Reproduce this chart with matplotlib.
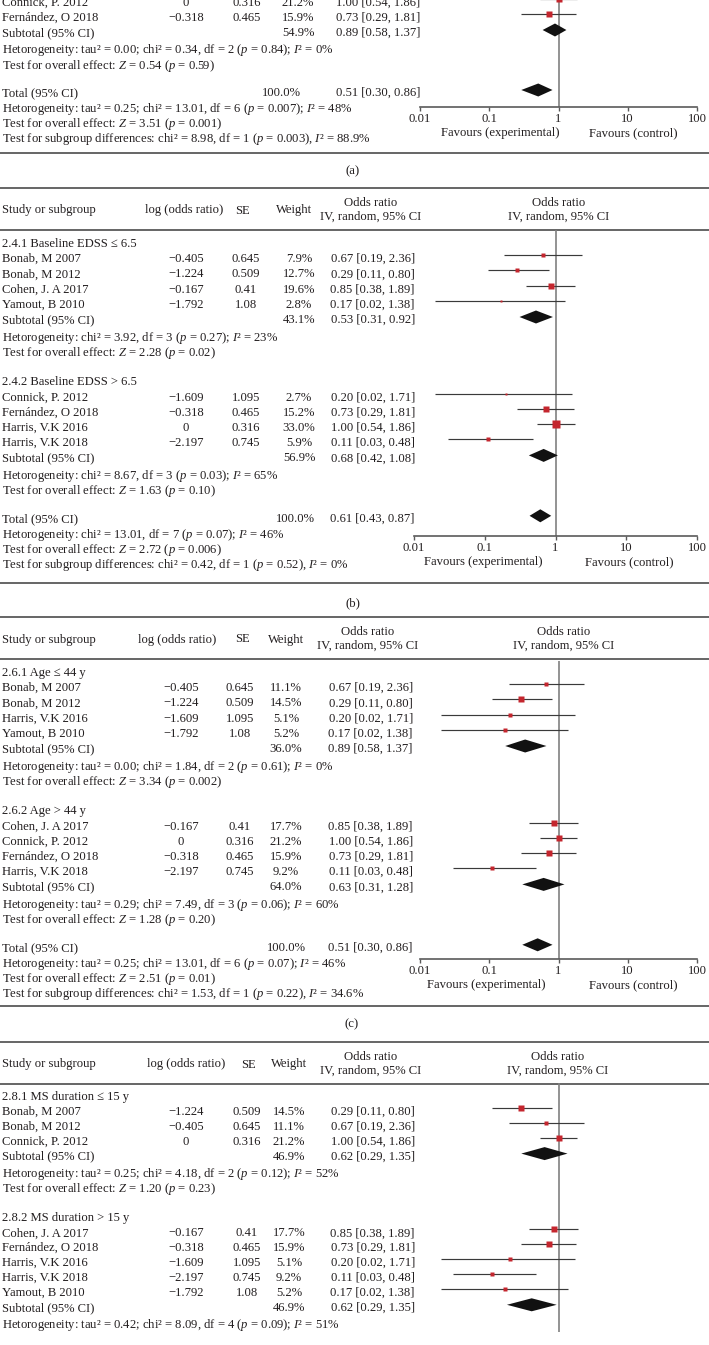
import matplotlib
matplotlib.use('Agg')
import matplotlib.pyplot as plt
from matplotlib.patches import Polygon
from matplotlib.ticker import NullLocator

FS = 9.1
plt.rcParams['font.family'] = ['Liberation Serif', 'DejaVu Serif']
plt.rcParams['mathtext.fontset'] = 'custom'
plt.rcParams['mathtext.rm'] = 'Liberation Serif'
plt.rcParams['mathtext.it'] = 'Liberation Serif:italic'
plt.rcParams['font.size'] = FS

# ---------------- data ----------------
# (a) only the bottom of the panel is visible
a2_names = ['Connick, P. 2012', 'Fernández, O 2018']
a2_log = [0, -0.318]
a2_se = [0.316, 0.465]
a2_w = [21.2, 15.9]
a2_or = [1.00, 0.73]
a2_lo = [0.54, 0.29]
a2_hi = [1.86, 1.81]
a2_sub = [54.9, 0.89, 0.58, 1.37]        # weight, OR, CI as printed
a2_sub_draw = [0.89, 0.59, 1.30]          # diamond as drawn
a2_het = 'tau² = 0.00; chi² = 0.34, df = 2 ($p$ = 0.84); $I$² = 0%'
a2_z = '0.54 ($p$ = 0.59)'
a_tot = [100.0, 0.51, 0.30, 0.86]
a_tot_draw = [0.51, 0.29, 0.82]
a_tot_het = 'tau² = 0.25; chi² = 13.01, df = 6 ($p$ = 0.007); $I$² = 48%'
a_tot_z = '3.51 ($p$ = 0.001)'
a_sgdiff = 'chi² = 8.98, df = 1 ($p$ = 0.003), $I$² = 88.9%'

# (b)
b1_label = '2.4.1 Baseline EDSS ≤ 6.5'
b1_names = ['Bonab, M 2007', 'Bonab, M 2012', 'Cohen, J. A 2017', 'Yamout, B 2010']
b1_log = [-0.405, -1.224, -0.167, -1.792]
b1_se = [0.645, 0.509, 0.41, 1.08]
b1_w = [7.9, 12.7, 19.6, 2.8]
b1_or = [0.67, 0.29, 0.85, 0.17]
b1_lo = [0.19, 0.11, 0.38, 0.02]
b1_hi = [2.36, 0.80, 1.89, 1.38]
b1_sub = [43.1, 0.53, 0.31, 0.92]
b1_sub_draw = [0.53, 0.31, 0.92]
b1_het = 'chi² = 3.92, df = 3 ($p$ = 0.27); $I$² = 23%'
b1_z = '2.28 ($p$ = 0.02)'
b2_label = '2.4.2 Baseline EDSS > 6.5'
b2_names = ['Connick, P. 2012', 'Fernández, O 2018', 'Harris, V.K 2016', 'Harris, V.K 2018']
b2_log = [-1.609, -0.318, 0, -2.197]
b2_se = [1.095, 0.465, 0.316, 0.745]
b2_w = [2.7, 15.2, 33.0, 5.9]
b2_or = [0.20, 0.73, 1.00, 0.11]
b2_lo = [0.02, 0.29, 0.54, 0.03]
b2_hi = [1.71, 1.81, 1.86, 0.48]
b2_sub = [56.9, 0.68, 0.42, 1.08]
b2_sub_draw = [0.68, 0.42, 1.08]
b2_het = 'chi² = 8.67, df = 3 ($p$ = 0.03); $I$² = 65%'
b2_z = '1.63 ($p$ = 0.10)'
b_tot = [100.0, 0.61, 0.43, 0.87]
b_tot_draw = [0.61, 0.43, 0.87]
b_tot_het = 'chi² = 13.01, df = 7 ($p$ = 0.07); $I$² = 46%'
b_tot_z = '2.72 ($p$ = 0.006)'
b_sgdiff = 'chi² = 0.42, df = 1 ($p$ = 0.52), $I$² = 0%'

# (c)
c1_label = '2.6.1 Age ≤ 44 y'
c1_names = ['Bonab, M 2007', 'Bonab, M 2012', 'Harris, V.K 2016', 'Yamout, B 2010']
c1_log = [-0.405, -1.224, -1.609, -1.792]
c1_se = [0.645, 0.509, 1.095, 1.08]
c1_w = [11.1, 14.5, 5.1, 5.2]
c1_or = [0.67, 0.29, 0.20, 0.17]
c1_lo = [0.19, 0.11, 0.02, 0.02]
c1_hi = [2.36, 0.80, 1.71, 1.38]
c1_sub = [36.0, 0.89, 0.58, 1.37]
c1_sub_draw = [0.33, 0.17, 0.67]
c1_het = 'tau² = 0.00; chi² = 1.84, df = 2 ($p$ = 0.61); $I$² = 0%'
c1_z = '3.34 ($p$ = 0.002)'
c2_label = '2.6.2 Age > 44 y'
c2_names = ['Cohen, J. A 2017', 'Connick, P. 2012', 'Fernández, O 2018', 'Harris, V.K 2018']
c2_log = [-0.167, 0, -0.318, -2.197]
c2_se = [0.41, 0.316, 0.465, 0.745]
c2_w = [17.7, 21.2, 15.9, 9.2]
c2_or = [0.85, 1.00, 0.73, 0.11]
c2_lo = [0.38, 0.54, 0.29, 0.03]
c2_hi = [1.89, 1.86, 1.81, 0.48]
c2_sub = [64.0, 0.63, 0.31, 1.28]
c2_sub_draw = [0.61, 0.30, 1.22]
c2_het = 'tau² = 0.29; chi² = 7.49, df = 3 ($p$ = 0.06); $I$² = 60%'
c2_z = '1.28 ($p$ = 0.20)'
c_tot = [100.0, 0.51, 0.30, 0.86]
c_tot_draw = [0.50, 0.30, 0.82]
c_tot_het = 'tau² = 0.25; chi² = 13.01, df = 6 ($p$ = 0.07); $I$² = 46%'
c_tot_z = '2.51 ($p$ = 0.01)'
c_sgdiff = 'chi² = 1.53, df = 1 ($p$ = 0.22), $I$² = 34.6%'

# (d) only the top of the panel is visible
d1_label = '2.8.1 MS duration ≤ 15 y'
d1_names = ['Bonab, M 2007', 'Bonab, M 2012', 'Connick, P. 2012']
d1_log = [-1.224, -0.405, 0]
d1_se = [0.509, 0.645, 0.316]
d1_w = [14.5, 11.1, 21.2]
d1_or = [0.29, 0.67, 1.00]
d1_lo = [0.11, 0.19, 0.54]
d1_hi = [0.80, 2.36, 1.86]
d1_sub = [46.9, 0.62, 0.29, 1.35]
d1_sub_draw = [0.63, 0.29, 1.35]
d1_het = 'tau² = 0.25; chi² = 4.18, df = 2 ($p$ = 0.12); $I$² = 52%'
d1_z = '1.20 ($p$ = 0.23)'
d2_label = '2.8.2 MS duration > 15 y'
d2_names = ['Cohen, J. A 2017', 'Fernández, O 2018', 'Harris, V.K 2016', 'Harris, V.K 2018', 'Yamout, B 2010']
d2_log = [-0.167, -0.318, -1.609, -2.197, -1.792]
d2_se = [0.41, 0.465, 1.095, 0.745, 1.08]
d2_w = [17.7, 15.9, 5.1, 9.2, 5.2]
d2_or = [0.85, 0.73, 0.20, 0.11, 0.17]
d2_lo = [0.38, 0.29, 0.02, 0.03, 0.02]
d2_hi = [1.89, 1.81, 1.71, 0.48, 1.38]
d2_sub = [46.9, 0.62, 0.29, 1.35]
d2_sub_draw = [0.41, 0.18, 0.94]
d2_het = 'tau² = 0.42; chi² = 8.09, df = 4 ($p$ = 0.09); $I$² = 51%'

ticks = [0.01, 0.1, 1, 10, 100]
tick_labels = ['0.01', '0.1', '1', '10', '100']

# ---------------- drawing ----------------
W, H = 709, 1345
INK = '#231f20'
RED = '#c4262e'
CI = '#3a3a3a'
GREY = '#808080'
RULE = '#3c3c3c'

fig = plt.figure(figsize=(W / 100, H / 100), dpi=100)
bg = fig.add_axes([0, 0, 1, 1])
bg.set_xlim(0, W)
bg.set_ylim(H, 0)
bg.axis('off')


def put(x, y, s, ha='left'):
    bg.text(x, y + 4, s, ha=ha, va='baseline', color=INK)


def rule(y):
    bg.plot([0, W], [y, y], color=RULE, lw=1.1, solid_capstyle='butt')


def num(v):
    return f'{v:g}'.replace('-', '−')


def ci_text(o, l, h):
    return f'{o:.2f} [{l:.2f}, {h:.2f}]'


def forest_axes(x0, ytop, ybot, axis=True):
    ax = fig.add_axes([x0 / W, 1 - ybot / H, (697 - x0) / W, (ybot - ytop) / H])
    ax.set_xscale('log')
    ax.set_xlim(0.01, 100)
    ax.set_ylim(ybot, ytop)
    ax.patch.set_visible(False)
    for s in ['top', 'left', 'right']:
        ax.spines[s].set_visible(False)
    ax.set_yticks([])
    ax.axvline(1, color=GREY, lw=1.2, zorder=1)
    if axis:
        ax.spines['bottom'].set_color('#5a5a5a')
        ax.spines['bottom'].set_linewidth(1.2)
        ax.set_xticks(ticks)
        ax.set_xticklabels(tick_labels)
        ax.xaxis.set_minor_locator(NullLocator())
        ax.tick_params(axis='x', direction='out', length=3, width=1,
                       color='#5a5a5a', pad=1.2, labelsize=FS, labelcolor=INK)
    else:
        ax.spines['bottom'].set_visible(False)
        ax.set_xticks([])
        ax.xaxis.set_minor_locator(NullLocator())
    return ax


def diamond(ax, y, d):
    mid, lo, hi = d
    ax.add_patch(Polygon([(lo, y), (mid, y - 6.5), (hi, y), (mid, y + 6.5)],
                         closed=True, facecolor='#111111', edgecolor='none', zorder=3))


def studies(ax, col, y, step, names, lg, se, w, orv, lo, hi):
    for i, name in enumerate(names):
        put(2, y, name)
        put(col['log'], y, num(lg[i]), 'center')
        put(col['se'], y, num(se[i]), 'center')
        put(col['w'], y, f'{w[i]:.1f}%', 'center')
        put(col['or'], y, ci_text(orv[i], lo[i], hi[i]), 'right')
        ax.plot([lo[i], hi[i]], [y - 3, y - 3], color=CI, lw=0.85,
                solid_capstyle='butt', zorder=2)
        ax.plot(orv[i], y - 3, 's', ms=0.97 * w[i] ** 0.5, color=RED,
                mec='none', zorder=3)
        y += step
    return y


def pooled(ax, col, y, label, wkey, sub, draw):
    put(2, y, label)
    put(col[wkey], y, f'{sub[0]:.1f}%', 'center')
    put(col['or'], y, ci_text(*sub[1:]), 'right')
    diamond(ax, y - 2, draw)


def group(ax, col, y, step, label, data, sub, draw, het, z):
    if label:
        put(2, y, label)
        y += step
    y = studies(ax, col, y, step, *data)
    pooled(ax, col, y, 'Subtotal (95% CI)', 'w', sub, draw)
    y += step + 2.5
    put(2, y, 'Hetorogeneity: ' + het)
    if z is None:
        return y
    y += step
    put(2, y, 'Test for overall effect: $Z$ = ' + z)
    return y


def total(ax, col, y, step, tot, draw, het, z, sgd):
    pooled(ax, col, y, 'Total (95% CI)', 'wt', tot, draw)
    y += 16
    put(2, y, 'Hetorogeneity: ' + het)
    y += step
    put(2, y, 'Test for overall effect: $Z$ = ' + z)
    y += step
    put(2, y, 'Test for subgroup differences: ' + sgd)


def header(top, col):
    rule(top)
    put(2, top + 21.5, 'Study or subgroup')
    put(col['hlog'], top + 21.5, 'log (odds ratio)', 'center')
    put(col['hse'], top + 21.5, 'SE', 'center')
    put(col['hw'], top + 21.5, 'Weight', 'center')
    for xc in (col['hor'], col['hf']):
        put(xc, top + 14, 'Odds ratio', 'center')
        put(xc, top + 28, 'IV, random, 95% CI', 'center')
    rule(top + 42)


def favours(yax, xe, xc):
    put(xe, yax + 25, 'Favours (experimental)', 'center')
    put(xc, yax + 25, 'Favours (control)', 'center')


# ---- panel (a), lower part
col_a = dict(log=186, se=247, w=298, wt=281, **{'or': 420})
ax_a = forest_axes(420, 0, 107)
step = 15
y = group(ax_a, col_a, 2, step, None,
          (a2_names, a2_log, a2_se, a2_w, a2_or, a2_lo, a2_hi),
          a2_sub, a2_sub_draw, a2_het, a2_z)
total(ax_a, col_a, y + 27.5, step, a_tot, a_tot_draw, a_tot_het, a_tot_z, a_sgdiff)
favours(107, 500, 633)
rule(153)
put(353, 170, '(a)', 'center')

# ---- panel (b)
col_b = dict(log=186, se=246, w=299, wt=295, hlog=184, hse=243, hw=294,
             hor=371, hf=559, **{'or': 415})
header(188, col_b)
ax_b = forest_axes(414, 230, 536)
step = 15.2
y = group(ax_b, col_b, 243, step, b1_label,
          (b1_names, b1_log, b1_se, b1_w, b1_or, b1_lo, b1_hi),
          b1_sub, b1_sub_draw, b1_het, b1_z)
y = group(ax_b, col_b, y + 29.5, step, b2_label,
          (b2_names, b2_log, b2_se, b2_w, b2_or, b2_lo, b2_hi),
          b2_sub, b2_sub_draw, b2_het, b2_z)
total(ax_b, col_b, y + 27.5, step, b_tot, b_tot_draw, b_tot_het, b_tot_z, b_sgdiff)
favours(536, 483, 629)
rule(583)
put(353, 602, '(b)', 'center')

# ---- panel (c)
col_c = dict(log=181, se=240, w=286, wt=286, hlog=177, hse=242, hw=286,
             hor=368, hf=564, **{'or': 413})
header(617, col_c)
ax_c = forest_axes(420, 661, 959)
y = group(ax_c, col_c, 672, step, c1_label,
          (c1_names, c1_log, c1_se, c1_w, c1_or, c1_lo, c1_hi),
          c1_sub, c1_sub_draw, c1_het, c1_z)
y = group(ax_c, col_c, y + 29.5, step, c2_label,
          (c2_names, c2_log, c2_se, c2_w, c2_or, c2_lo, c2_hi),
          c2_sub, c2_sub_draw, c2_het, c2_z)
total(ax_c, col_c, y + 27.5, step, c_tot, c_tot_draw, c_tot_het, c_tot_z, c_sgdiff)
favours(959, 486, 633)
rule(1006)
put(352, 1023, '(c)', 'center')

# ---- panel (d), upper part
col_d = dict(log=186, se=247, w=289, wt=289, hlog=186, hse=248, hw=289,
             hor=371, hf=558, **{'or': 415})
header(1042, col_d)
ax_d = forest_axes(420, 1083, 1332, axis=False)
step = 14.9
y = group(ax_d, col_d, 1096, step, d1_label,
          (d1_names, d1_log, d1_se, d1_w, d1_or, d1_lo, d1_hi),
          d1_sub, d1_sub_draw, d1_het, d1_z)
group(ax_d, col_d, y + 29.5, step, d2_label,
      (d2_names, d2_log, d2_se, d2_w, d2_or, d2_lo, d2_hi),
      d2_sub, d2_sub_draw, d2_het, None)

fig.savefig('out.png', dpi=100)
